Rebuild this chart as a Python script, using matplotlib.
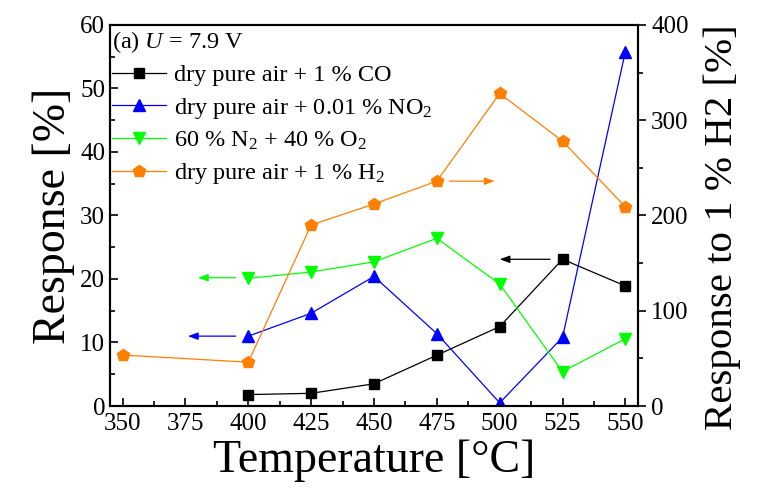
import matplotlib
matplotlib.use("Agg")
import matplotlib.pyplot as plt

plt.rcParams["font.family"] = ["Liberation Serif", "DejaVu Serif"]
plt.rcParams["mathtext.fontset"] = "custom"
plt.rcParams["mathtext.rm"] = "Liberation Serif"
plt.rcParams["mathtext.it"] = "Liberation Serif:italic"

# Measured responses versus operating temperature
temps_gas = [400, 425, 450, 475, 500, 525, 550]
resp_co = [1.8, 2.0, 3.5, 8.0, 12.5, 23.1, 18.9]
resp_no2 = [11.0, 14.6, 20.4, 11.4, 0.5, 10.8, 55.8]
resp_o2 = [20.1, 21.1, 22.7, 26.4, 19.2, 5.4, 10.6]

temps_h2 = [350, 400, 425, 450, 475, 500, 525, 550]
resp_h2 = [53.5, 46.0, 190, 212, 236, 328, 278, 209]

labels = [
    "dry pure air + 1 % CO",
    "dry pure air + 0.01 % NO$_2$",
    "60 % N$_2$ + 40 % O$_2$",
    "dry pure air + 1 % H$_2$",
]
legend_title = "(a) $U$ = 7.9 V"

# axis-assignment arrows: (y value, x start, x end)
arrow_co = (23.1, 520, 500)
arrow_no2 = (11.0, 395, 376)
arrow_o2 = (20.2, 395, 380)
arrow_h2 = (236, 480, 498)

c_co, c_no2, c_o2, c_h2 = "black", "#0000ff", "#00ff00", "#ff7f00"

fig = plt.figure(figsize=(7.64, 4.88), dpi=100)
ax = fig.add_axes([0.144, 0.168, 0.691, 0.781])
ax2 = ax.twinx()

lw = 0.9
l1, = ax.plot(temps_gas, resp_co, color=c_co, marker="s", ms=7.5, lw=lw)
l2, = ax.plot(temps_gas, resp_no2, color=c_no2, marker="^", ms=9, lw=lw)
l3, = ax.plot(temps_gas, resp_o2, color=c_o2, marker="v", ms=9, lw=lw)
l4, = ax2.plot(temps_h2, resp_h2, color=c_h2, marker="p", ms=9, lw=lw)

def arrow(axis, spec, color):
    y, x0, x1 = spec
    axis.annotate("", xy=(x1, y), xytext=(x0, y),
                  arrowprops=dict(arrowstyle="-|>,head_length=0.6,head_width=0.22",
                                  color=color, lw=lw, shrinkA=0, shrinkB=0))

arrow(ax, arrow_co, c_co)
arrow(ax, arrow_no2, c_no2)
arrow(ax, arrow_o2, c_o2)
arrow(ax2, arrow_h2, c_h2)

ax.set_xlim(345, 555)
ax.set_ylim(0, 60)
ax2.set_ylim(0, 400)

ax.set_xticks(range(350, 551, 25))
ax.set_xticks([362.5 + 25 * i for i in range(8)], minor=True)
ax.set_yticks(range(0, 61, 10))
ax.set_yticks(range(5, 60, 10), minor=True)
ax2.set_yticks(range(0, 401, 100))
ax2.set_yticks(range(50, 400, 100), minor=True)

tick_fs = 18
ax.tick_params(axis="both", which="major", direction="in", length=6, width=1.2,
               labelsize=tick_fs, top=False, right=False)
ax.tick_params(axis="both", which="minor", direction="in", length=3.5, width=1.2,
               top=False, right=False)
ax.tick_params(axis="x", pad=5)
ax2.tick_params(axis="y", which="major", direction="out", length=6, width=1.2,
                labelsize=tick_fs)
ax2.tick_params(axis="y", which="minor", direction="out", length=3.5, width=1.2)

for a in (ax, ax2):
    for s in a.spines.values():
        s.set_linewidth(1.5)

ax.set_xlabel("Temperature [°C]", fontsize=33, labelpad=3)
ax.set_ylabel("Response [%]", fontsize=33, labelpad=4)
ax2.set_ylabel("Response to 1 % H2 [%]", fontsize=29.5, rotation=90, va="center")
ax2.yaxis.set_label_coords(1.159, 0.47)

leg = ax.legend([l1, l2, l3, l4], labels, title=legend_title, loc="upper left",
                bbox_to_anchor=(0.0, 0.995), frameon=False, fontsize=17.5,
                title_fontsize=17.5, handlelength=2.2, handletextpad=0.35,
                labelspacing=0.38, borderaxespad=0.0, borderpad=0.1)
leg._legend_box.align = "left"
leg.set_zorder(5)

fig.savefig("out.png", dpi=100)
